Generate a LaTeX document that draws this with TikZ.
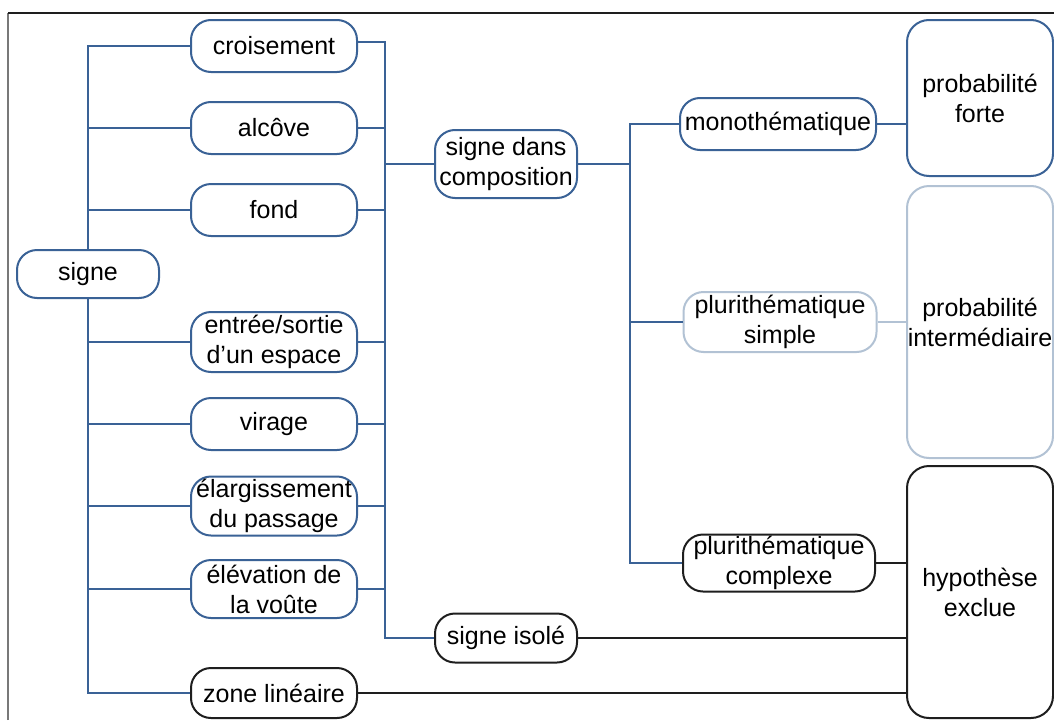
\documentclass[tikz,border=0pt]{standalone}
\usepackage{fontspec}
\setmainfont{Liberation Sans}
\definecolor{linkblue}{RGB}{58,98,150}
\definecolor{paleblue}{RGB}{178,194,212}
\definecolor{inkdark}{RGB}{30,30,30}
\definecolor{framegray}{RGB}{120,120,120}
\begin{document}
\begin{tikzpicture}[x=1pt,y=-1pt,
  every node/.style={font=\fontsize{25}{30}\selectfont, text=black, align=center, inner sep=0pt},
  leaf/.style={draw=linkblue, line width=2pt, rounded corners=20pt, minimum width=166pt, minimum height=52pt},
  pill/.style={draw=#1, line width=2pt, rounded corners=20pt},
  verdict/.style={draw=#1, line width=2pt, rounded corners=22pt, minimum width=146pt},
  link/.style={draw=linkblue, line width=2pt},
  palelink/.style={draw=paleblue, line width=2pt},
  darklink/.style={draw=inkdark, line width=2pt}
]
\useasboundingbox (0,0) rectangle (1054,720);
\fill[white] (0,0) rectangle (1054,720);
% outer frame
\draw[framegray, line width=1.5pt] (8,720) -- (8,13);
\draw[inkdark, line width=1.5pt] (8,13) -- (1054,13);

% root
\node[pill=linkblue, minimum width=142pt, minimum height=48pt] (signe) at (88,274) {signe};

% sign types
\node[leaf] (crois) at (274,46) {croisement};
\node[leaf] (alcove) at (274,128) {alcôve};
\node[leaf] (fond) at (274,210) {fond};
\node[leaf, minimum height=60pt] (entree) at (274,342) {entrée/sortie\\d’un espace};
\node[leaf] (virage) at (274,424) {virage};
\node[leaf, minimum height=59pt] (elarg) at (274,506) {élargissement\\du passage};
\node[leaf, minimum height=58pt] (elev) at (274,589) {élévation de\\la voûte};
\node[pill=inkdark, minimum width=166pt, minimum height=50pt] (zone) at (274,693) {zone linéaire};

% context
\node[pill=linkblue, minimum width=142pt, minimum height=68pt] (compo) at (506,164) {signe dans\\composition};
\node[pill=inkdark, minimum width=142pt, minimum height=49pt] (isole) at (506,638) {signe isolé};

% composition kinds
\node[pill=linkblue, minimum width=196pt, minimum height=52pt] (mono) at (778,124) {monothématique};
\node[pill=paleblue, minimum width=193pt, minimum height=60pt] (simple) at (780,322) {plurithématique\\simple};
\node[pill=inkdark, minimum width=192pt, minimum height=57pt] (complexe) at (779,563) {plurithématique\\complexe};

% outcomes
\node[verdict=linkblue, minimum height=156pt] (forte) at (980,98) {probabilité\\forte};
\node[verdict=paleblue, minimum height=272pt] (inter) at (980,322) {probabilité\\intermédiaire};
\node[verdict=inkdark, minimum height=252pt] (exclue) at (980,592) {hypothèse\\exclue};

% junction points
\coordinate (colA) at (385,638);
\coordinate (colB) at (630,563);

% root trunk
\draw[link] (signe.north) |- (crois.west);
\draw[link] (signe.north) |- (alcove.west);
\draw[link] (signe.north) |- (fond.west);
\draw[link] (signe.south) |- (entree.west);
\draw[link] (signe.south) |- (virage.west);
\draw[link] (signe.south) |- (elarg.west);
\draw[link] (signe.south) |- (elev.west);
\draw[link] (signe.south) |- (zone.west);

% collector of sign types
\draw[link] ([yshift=4pt]crois.east) -| (colA) -- (isole.west);
\draw[link] (alcove.east) -- (alcove.east -| colA);
\draw[link] (fond.east) -- (fond.east -| colA);
\draw[link] (entree.east) -- (entree.east -| colA);
\draw[link] (virage.east) -- (virage.east -| colA);
\draw[link] (elarg.east) -- (elarg.east -| colA);
\draw[link] (elev.east) -- (elev.east -| colA);
\draw[link] (compo.west) -- (compo.west -| colA);

% composition splitter
\draw[link] (compo.east) -- (compo.east -| colB);
\draw[link] (mono.west) -| (colB) -- (complexe.west);
\draw[link] (simple.west) -- (simple.west -| colB);

% to outcomes
\draw[link] (mono.east) -- (mono.east -| forte.west);
\draw[palelink] (simple.east) -- (simple.east -| inter.west);
\draw[darklink] (complexe.east) -- (complexe.east -| exclue.west);
\draw[darklink] (isole.east) -- (isole.east -| exclue.west);
\draw[darklink] (zone.east) -- (zone.east -| exclue.west);
\end{tikzpicture}
\end{document}
